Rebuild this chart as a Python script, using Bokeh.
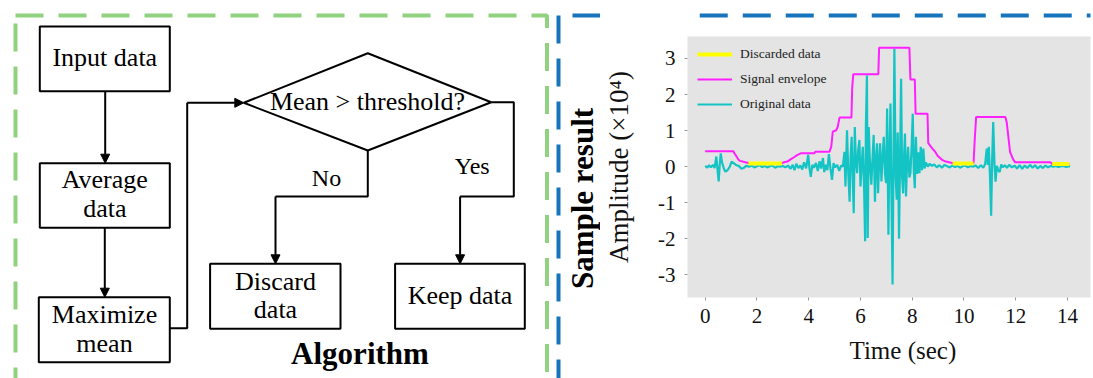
import math
from bokeh.plotting import figure
from bokeh.models import Range1d, FixedTicker, Legend, LegendItem, Title, Arrow, NormalHead
from bokeh.layouts import row, column
from bokeh.embed import file_html
from bokeh.resources import INLINE
from bokeh.core.properties import value

# ---------------- chart data ----------------
x_ticks = [0, 2, 4, 6, 8, 10, 12, 14]
y_ticks = [-3, -2, -1, 0, 1, 2, 3]
y_tick_labels = ["-3", "-2", "-1", "0", "1", "2", "3"]
legend_labels = ["Discarded data", "Signal envelope", "Original data"]

orig_t = [0.00, 0.08, 0.15, 0.22, 0.30, 0.36, 0.43, 0.47, 0.52, 0.56, 0.60, 0.65, 0.72, 0.78, 0.86, 0.95,
          1.02, 1.10, 1.20, 1.30, 1.40, 1.48, 1.58, 1.70, 1.80, 1.90, 2.00, 2.10, 2.20, 2.30, 2.40, 2.50,
          2.60, 2.70, 2.80, 2.90, 3.00, 3.10, 3.20, 3.30, 3.38, 3.45, 3.52, 3.60, 3.68, 3.75, 3.82, 3.90,
          3.98, 4.03, 4.08, 4.14, 4.20, 4.28, 4.35, 4.42, 4.48, 4.55, 4.60, 4.66, 4.72, 4.78, 4.84, 4.90,
          4.96, 5.02, 5.10, 5.18, 5.25, 5.32, 5.38, 5.42, 5.48, 5.53, 5.58, 5.62, 5.66, 5.70, 5.74, 5.78,
          5.82, 5.87, 5.91, 5.96, 6.00, 6.05, 6.09, 6.14, 6.18, 6.21, 6.25, 6.28, 6.32, 6.36, 6.42, 6.47,
          6.51, 6.56, 6.60, 6.64, 6.68, 6.72, 6.76, 6.81, 6.86, 6.90, 6.95, 6.99, 7.03, 7.08, 7.12, 7.16,
          7.20, 7.24, 7.28, 7.31, 7.36, 7.40, 7.44, 7.49, 7.53, 7.57, 7.61, 7.65, 7.69, 7.72, 7.76, 7.80,
          7.84, 7.89, 7.93, 7.98, 8.02, 8.06, 8.10, 8.14, 8.19, 8.24, 8.28, 8.33, 8.38, 8.43, 8.48, 8.53,
          8.60, 8.68, 8.76, 8.85, 8.95, 9.05, 9.15, 9.25, 9.35, 9.45, 9.55, 9.65, 9.75, 9.85, 9.95, 10.05,
          10.15, 10.25, 10.35, 10.45, 10.55, 10.65, 10.75, 10.82, 10.88, 10.92, 10.96, 11.00, 11.05, 11.09,
          11.13, 11.18, 11.22, 11.27, 11.32, 11.38, 11.44, 11.50, 11.58, 11.66, 11.75, 11.85, 11.95, 12.05,
          12.15, 12.25, 12.35, 12.45, 12.55, 12.65, 12.75, 12.85, 12.95, 13.05, 13.15, 13.25, 13.35, 13.45,
          13.55, 13.65, 13.75, 13.85, 13.95, 14.05, 14.10]
orig_v = [0.02, -0.03, 0.04, -0.02, 0.05, -0.04, 0.28, -0.05, -0.41, 0.05, 0.37, 0.12, -0.05, -0.14, -0.10, 0.00,
          0.14, 0.10, 0.04, 0.02, -0.06, -0.04, 0.02, 0.00, 0.03, -0.02, 0.01, 0.04, -0.01, 0.02, -0.02, 0.01,
          0.03, -0.03, 0.01, 0.00, 0.02, -0.02, 0.03, -0.06, 0.05, -0.10, 0.08, -0.04, 0.03, -0.08, 0.12, -0.05,
          0.33, -0.05, -0.28, 0.05, -0.03, 0.10, -0.12, 0.15, -0.05, 0.24, -0.15, 0.05, -0.10, 0.35, -0.05, -0.37,
          0.10, -0.02, 0.05, -0.12, 0.03, 0.00, 0.41, -0.55, 1.01, -0.20, -0.97, 0.30, 0.83, -0.30, -1.29, 1.10,
          0.20, -0.18, 0.45, 0.74, -0.55, 0.10, 0.55, -0.60, -2.07, 1.15, 2.53, -1.98, 1.10, 0.20, -0.50, 0.30,
          0.88, -0.97, 0.20, 0.65, -0.74, 0.10, 0.65, -0.41, 0.30, 0.83, -0.20, -0.46, 1.61, -1.89, 0.40, 1.75,
          -0.90, -3.27, 0.50, 3.27, -0.30, -0.92, 0.95, -2.00, 0.20, 2.44, -0.30, -0.74, 0.40, 0.92, -0.83, 0.10,
          0.55, -0.30, -0.18, 0.60, 1.47, -0.10, -0.60, 0.83, -0.20, 0.40, -0.18, 0.55, -0.10, 0.50, -0.05, 0.12,
          0.00, 0.08, 0.02, 0.06, -0.02, 0.04, -0.03, 0.05, 0.01, -0.02, 0.03, -0.01, 0.02, -0.03, 0.01, 0.03,
          -0.02, 0.02, 0.00, 0.03, -0.04, 0.04, -0.03, 0.08, 0.50, 0.05, 0.55, -0.15, -1.36, 0.20,
          1.24, 0.05, -0.42, 0.02, -0.10, -0.15, 0.06, -0.02, 0.04, -0.03, 0.05, -0.02, 0.03, -0.05,
          0.04, -0.06, 0.03, -0.04, 0.05, -0.03, 0.04, -0.05, 0.02, -0.04, 0.03, -0.02, 0.02, 0.00,
          0.02, -0.01, 0.01, 0.02, -0.01, 0.01, 0.00]

env_t = [0.0, 1.08, 1.14, 1.21, 1.28, 1.34, 1.45, 1.55, 1.67, 2.97, 3.05, 3.17, 3.30, 3.43, 3.55, 3.69,
         4.21, 4.25, 4.80, 4.87, 4.93, 5.06, 5.12, 5.19, 5.65, 5.68, 5.72, 6.69, 6.72, 7.89, 7.93, 8.10,
         8.13, 8.59, 8.62, 8.78, 8.88, 8.98, 9.17, 9.30, 9.50, 9.56, 10.37, 10.42, 10.47, 11.60, 11.65,
         11.72, 11.78, 11.90, 11.98, 13.35, 13.41, 14.07]
env_v = [0.43, 0.43, 0.36, 0.28, 0.20, 0.16, 0.14, 0.12, 0.10, 0.10, 0.12, 0.14, 0.20, 0.26, 0.32, 0.37,
         0.37, 0.41, 0.41, 0.55, 0.97, 1.01, 1.10, 1.36, 1.36, 2.17, 2.56, 2.56, 3.30, 3.30, 2.42, 2.42,
         1.47, 1.47, 0.65, 0.50, 0.42, 0.30, 0.18, 0.14, 0.11, 0.10, 0.10, 0.80, 1.38, 1.38, 1.24,
         0.80, 0.41, 0.20, 0.12, 0.12, 0.07, 0.07]

disc_start = [1.67, 9.56, 13.41]
disc_end = [2.97, 10.37, 14.07]
disc_level = [0.09, 0.09, 0.07]

# ---------------- flowchart content ----------------
box_left = [39.3, 39.3, 38.3, 209.6, 394.6]
box_right = [169.3, 169.3, 169.3, 340.0, 524.3]
box_top = [26.0, 162.7, 296.7, 263.3, 263.3]
box_bottom = [90.7, 227.3, 361.7, 328.3, 328.3]

flow_text = ["Input data", "Average", "data", "Maximize", "mean", "Mean > threshold?",
             "Discard", "data", "Keep data"]
flow_tx = [104.3, 104.3, 104.3, 104.0, 104.0, 367.0, 275.0, 275.0, 459.5]
flow_ty = [57.2, 179.2, 208.2, 313.9, 342.9, 100.5, 280.5, 308.9, 295.2]

branch_text = ["No", "Yes"]
branch_tx = [326.0, 471.7]
branch_ty = [177.8, 165.8]

SERIF = "Liberation Serif"

# ---------------- left panel (flowchart) ----------------
left = figure(width=600, height=378, x_range=Range1d(0, 600), y_range=Range1d(378, 0),
              x_axis_type=None, y_axis_type=None, output_backend="svg", toolbar_location=None,
              min_border=0)
left.outline_line_color = None
left.grid.visible = False

GREEN = "#90d27f"
BLUE = "#1674bd"
left.line([15, 15], [395, 15], line_color=GREEN, line_width=4, line_dash="28 15")
left.line([15, 546.5, 546.5], [15, 15, 395], line_color=GREEN, line_width=4, line_dash="28 15")
left.line([558, 558], [15, 395], line_color=BLUE, line_width=4, line_dash="28 15")
left.line([572, 600], [15, 15], line_color=BLUE, line_width=4)

left.quad(left=box_left, right=box_right, top=box_top, bottom=box_bottom,
          fill_color=None, line_color="black", line_width=2)
left.patch([243.3, 367.3, 490.7, 367.3], [102.3, 52.7, 101.7, 150.0],
           fill_color=None, line_color="black", line_width=2)

left.multi_line([[169.3, 186.7, 186.7], [367.3, 367.3, 275.0], [490.7, 513.3, 513.3, 459.6]],
                [[327.7, 327.7, 102.3], [150.0, 196.0, 196.0], [101.7, 101.7, 196.0, 196.0]],
                line_color="black", line_width=2)

for xs, ys, xe, ye in [(104.7, 90.7, 104.7, 162.7), (104.3, 227.3, 104.3, 296.7),
                       (186.7, 102.3, 243.3, 102.3), (275.0, 196.0, 275.0, 263.3),
                       (459.6, 196.0, 459.6, 263.3)]:
    left.add_layout(Arrow(end=NormalHead(size=9, fill_color="black", line_color="black"),
                          x_start=xs, y_start=ys, x_end=xe, y_end=ye,
                          line_color="black", line_width=2))

left.text(x=flow_tx, y=flow_ty, text=flow_text, text_align="center", text_baseline="middle",
          text_font=value(SERIF), text_font_size="26px", text_color="black")
left.text(x=branch_tx, y=branch_ty, text=branch_text, text_align="center", text_baseline="middle",
          text_font=value(SERIF), text_font_size="24px", text_color="black")
left.text(x=[359.5], y=[352.8], text=["Algorithm"], text_align="center", text_baseline="middle",
          text_font=value(SERIF), text_font_size="31px", text_font_style="bold", text_color="black")
left.text(x=[582], y=[198], text=["Sample result"], angle=math.pi / 2, text_align="center",
          text_baseline="middle", text_font=value(SERIF), text_font_size="31px",
          text_font_style="bold", text_color="black")

# ---------------- top strip (blue dashed line) ----------------
strip = figure(width=493, height=22, x_range=Range1d(600, 1093), y_range=Range1d(22, 0),
               x_axis_type=None, y_axis_type=None, output_backend="svg", toolbar_location=None,
               min_border=0)
strip.outline_line_color = None
strip.grid.visible = False
strip.line([615, 1110], [15, 15], line_color=BLUE, line_width=4, line_dash="28 15")

# ---------------- right panel (chart) ----------------
chart = figure(width=493, height=356, x_range=Range1d(-0.685, 14.89), y_range=Range1d(-3.63, 3.61),
               output_backend="svg", toolbar_location=None,
               min_border_left=87, min_border_right=3, min_border_top=14, min_border_bottom=81)
chart.background_fill_color = "#e4e4e4"
chart.border_fill_color = "white"
chart.outline_line_color = None
chart.xgrid.visible = False
chart.ygrid.visible = False

for ax in (chart.xaxis[0], chart.yaxis[0]):
    ax.axis_line_color = None
    ax.major_tick_line_color = "#999999"
    ax.major_tick_in = 0
    ax.major_tick_out = 3
    ax.minor_tick_line_color = None
    ax.major_label_text_font = SERIF
    ax.major_label_text_font_size = "21px"
    ax.major_label_text_color = "#111111"

chart.xaxis.ticker = FixedTicker(ticks=x_ticks)
chart.yaxis.ticker = FixedTicker(ticks=y_ticks)
chart.yaxis.major_label_overrides = {t: s for t, s in zip(y_ticks, y_tick_labels)}
chart.xaxis.major_label_standoff = 8
chart.yaxis.major_label_standoff = 9
chart.yaxis.axis_label = "Amplitude (×10⁴)"
chart.yaxis.axis_label_text_font = SERIF
chart.yaxis.axis_label_text_font_size = "27px"
chart.yaxis.axis_label_text_font_style = "normal"
chart.yaxis.axis_label_text_color = "#111111"
chart.yaxis.axis_label_standoff = 21

chart.add_layout(Title(text="Time (sec)", align="left", offset=162, vertical_align="top", standoff=23,
                       text_font=SERIF, text_font_size="25px", text_font_style="normal",
                       text_color="#111111"), "below")

r_orig = chart.line(orig_t, orig_v, line_color="#14c4c4", line_width=2.2)
r_env = chart.line(env_t, env_v, line_color="#ff1fff", line_width=2)
r_disc = chart.segment(x0=disc_start, y0=disc_level, x1=disc_end, y1=disc_level,
                       line_color="#ffff00", line_width=4)

legend = Legend(items=[LegendItem(label=legend_labels[0], renderers=[r_disc]),
                       LegendItem(label=legend_labels[1], renderers=[r_env]),
                       LegendItem(label=legend_labels[2], renderers=[r_orig])],
                location="top_left", margin=10, padding=0, spacing=9,
                glyph_width=35, glyph_height=16, label_height=16, label_standoff=8,
                label_text_font=SERIF, label_text_font_size="13.5px", label_text_color="#222222",
                border_line_color=None, background_fill_alpha=0)
chart.add_layout(legend)

layout = row(left, column(strip, chart))
open("out.html", "w").write(file_html(layout, INLINE))
